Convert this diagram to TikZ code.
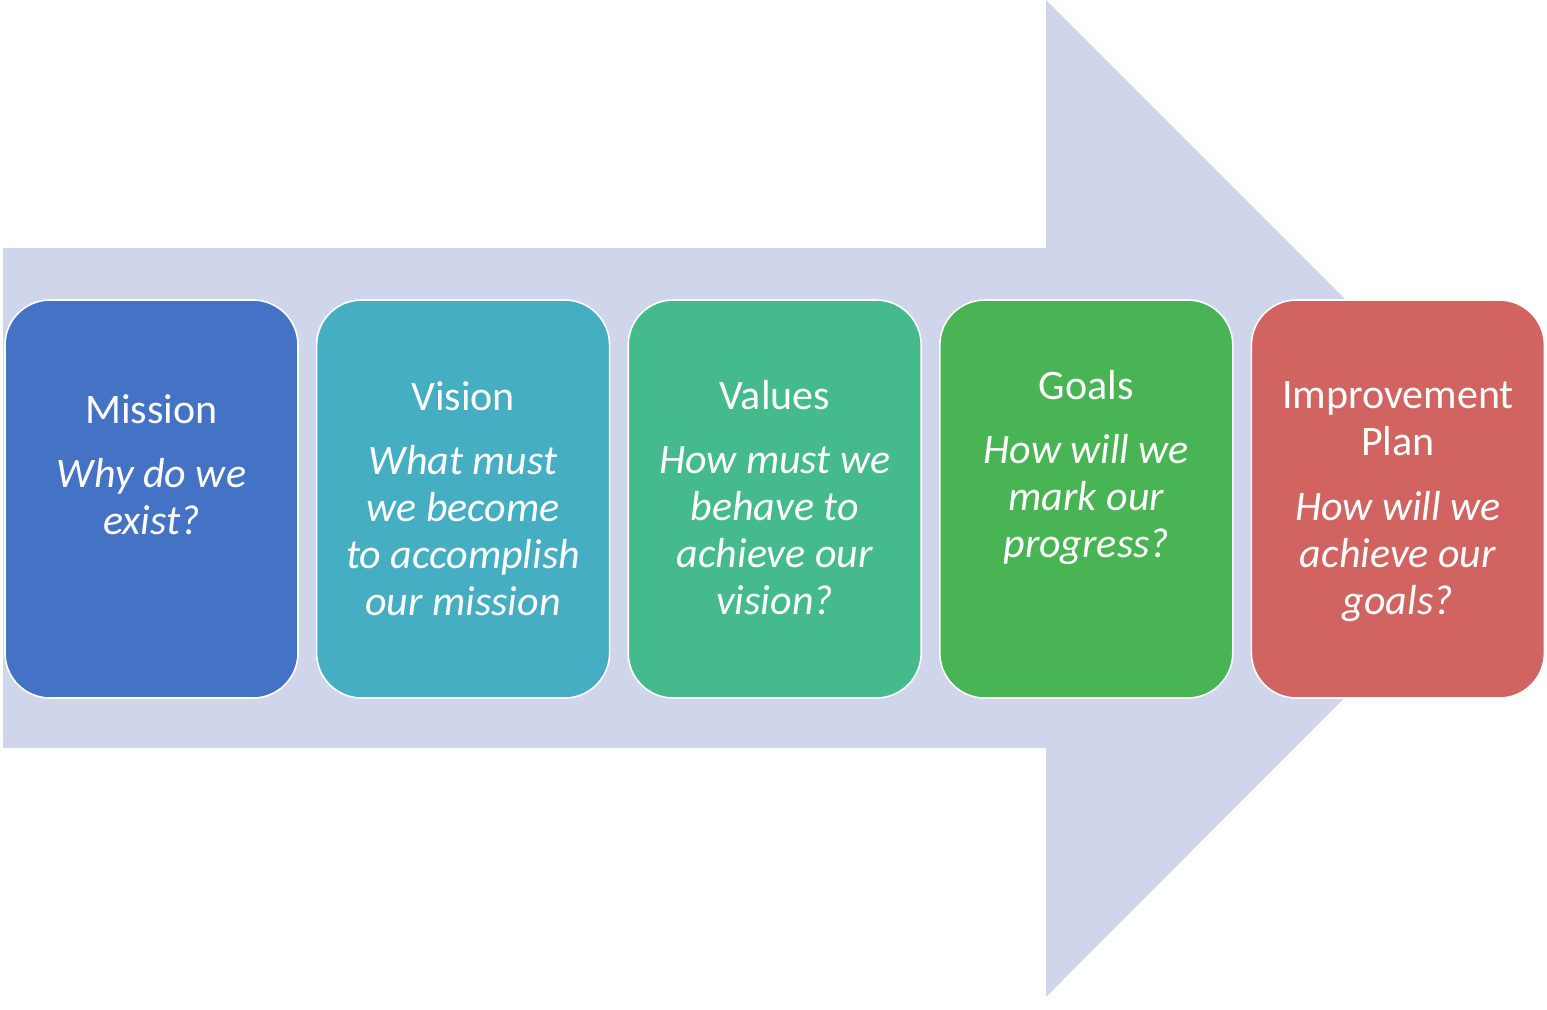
\documentclass[tikz,border=0pt]{standalone}
\usepackage{fontspec}
\setmainfont{Carlito}
\definecolor{arrowbg}{HTML}{CFD5EA}
\definecolor{missionc}{HTML}{4472C4}
\definecolor{visionc}{HTML}{45AEC2}
\definecolor{valuesc}{HTML}{45BB8D}
\definecolor{goalsc}{HTML}{48B454}
\definecolor{planc}{HTML}{D16360}
\begin{document}
\begin{tikzpicture}[x=0.5pt,y=-0.5pt,
  box/.style={draw=white,line width=0.8pt,rounded corners=22.5pt,minimum width=146.5pt,minimum height=199pt},
  lbl/.style={text=white,align=center,font=\fontsize{21}{23.5}\selectfont}]
\def\gap{311.6}
\useasboundingbox (0,0) rectangle (1547,1009);

% big arrow behind
\fill[arrowbg] (3,248) -- (1046,248) -- (1046,0) -- (1544,498) -- (1046,997) -- (1046,748) -- (3,748) -- cycle;

% boxes
\node[box,fill=missionc] (M) at (151.5+0*\gap,499) {};
\node[box,fill=visionc] (V) at (151.5+1*\gap,499) {};
\node[box,fill=valuesc] (Va) at (151.5+2*\gap,499) {};
\node[box,fill=goalsc] (G) at (151.5+3*\gap,499) {};
\node[box,fill=planc] (P) at (151.5+4*\gap,499) {};

% texts
\node[lbl] (Mt) at (151.5+0*\gap,465) {Mission\\[8.5pt]\itshape Why do we\\\itshape exist?};
\node[lbl] (Vt) at (151.5+1*\gap,498.5) {Vision\\[8.5pt]\itshape What must\\\itshape we become\\\itshape to accomplish\\\itshape our mission};
\node[lbl] (Vat) at (151.5+2*\gap,498) {Values\\[8.5pt]\itshape How must we\\\itshape behave to\\\itshape achieve our\\\itshape vision?};
\node[lbl] (Gt) at (151.5+3*\gap,468) {Goals\\[8.5pt]\itshape How will we\\\itshape mark our\\\itshape progress?};
\node[lbl] (Pt) at (151.5+4*\gap,502) {Improvement\\Plan\\[9pt]\itshape How will we\\\itshape achieve our\\\itshape goals?};
\end{tikzpicture}
\end{document}
